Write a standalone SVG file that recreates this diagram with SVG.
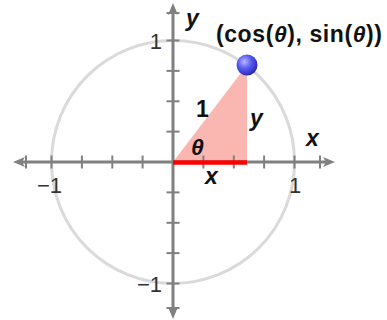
<svg xmlns="http://www.w3.org/2000/svg" width="387" height="320" viewBox="0 0 387 320">
  <style>
    .axis { stroke: #808080; stroke-width: 3; fill: none; }
    .tick { stroke: #808080; stroke-width: 2; }
    .ticklbl { font-family: "Liberation Sans", Arial, sans-serif; font-size: 22px; fill: #333333; }
    .lbl { font-family: "Liberation Sans", Arial, sans-serif; font-size: 23px; font-weight: bold; fill: #111111; }
    .it { font-style: italic; }
  </style>
  <defs>
    <marker id="arr" viewBox="0 0 12 10" refX="7" refY="5" markerWidth="12" markerHeight="10" orient="auto-start-reverse" markerUnits="userSpaceOnUse">
      <path d="M0,0 L12,5 L0,10 L3,5 z" fill="#808080"/>
    </marker>
    <radialGradient id="ballg" cx="0.38" cy="0.35" r="0.7">
      <stop offset="0" stop-color="#b8b8ff"/>
      <stop offset="0.45" stop-color="#5c5cf2"/>
      <stop offset="1" stop-color="#2424b4"/>
    </radialGradient>
  </defs>

  <g id="unit-circle">
    <circle cx="173" cy="162" r="121.5" fill="none" stroke="#dadada" stroke-width="3"/>
  </g>

  <g id="triangle">
    <polygon points="173,162 247,65 247,162" fill="#fab6b1"/>
  </g>

  <g id="axes">
    <line class="axis" x1="18" y1="162" x2="330" y2="162" marker-start="url(#arr)" marker-end="url(#arr)"/>
    <line class="axis" x1="173" y1="314" x2="173" y2="8" marker-start="url(#arr)" marker-end="url(#arr)"/>
  </g>

  <g id="ticks">
    <line class="tick" x1="26" y1="155.5" x2="26" y2="168.5"/>
    <line class="tick" x1="51.5" y1="155.5" x2="51.5" y2="168.5"/>
    <line class="tick" x1="81.9" y1="155.5" x2="81.9" y2="168.5"/>
    <line class="tick" x1="112.3" y1="155.5" x2="112.3" y2="168.5"/>
    <line class="tick" x1="142.6" y1="155.5" x2="142.6" y2="168.5"/>
    <line class="tick" x1="203.4" y1="155.5" x2="203.4" y2="168.5"/>
    <line class="tick" x1="233.8" y1="155.5" x2="233.8" y2="168.5"/>
    <line class="tick" x1="264.1" y1="155.5" x2="264.1" y2="168.5"/>
    <line class="tick" x1="294.5" y1="155.5" x2="294.5" y2="168.5"/>
    <line class="tick" x1="320" y1="155.5" x2="320" y2="168.5"/>
    <line class="tick" x1="166.5" y1="13" x2="179.5" y2="13"/>
    <line class="tick" x1="166.5" y1="40.5" x2="179.5" y2="40.5"/>
    <line class="tick" x1="166.5" y1="70.9" x2="179.5" y2="70.9"/>
    <line class="tick" x1="166.5" y1="101.3" x2="179.5" y2="101.3"/>
    <line class="tick" x1="166.5" y1="131.6" x2="179.5" y2="131.6"/>
    <line class="tick" x1="166.5" y1="192.4" x2="179.5" y2="192.4"/>
    <line class="tick" x1="166.5" y1="222.8" x2="179.5" y2="222.8"/>
    <line class="tick" x1="166.5" y1="253.1" x2="179.5" y2="253.1"/>
    <line class="tick" x1="166.5" y1="283.5" x2="179.5" y2="283.5"/>
    <line class="tick" x1="166.5" y1="308" x2="179.5" y2="308"/>
  </g>

  <g id="tick-labels">
    <text class="ticklbl" x="162" y="49" text-anchor="end">1</text>
    <text class="ticklbl" x="62" y="193" text-anchor="end">−1</text>
    <text class="ticklbl" x="162" y="292" text-anchor="end">−1</text>
    <text class="ticklbl" x="289" y="193">1</text>
  </g>

  <g id="cosine-segment">
    <line x1="173" y1="162.5" x2="247" y2="162.5" stroke="#ff0000" stroke-width="4.5"/>
  </g>

  <g id="point">
    <circle cx="247" cy="65" r="10.5" fill="url(#ballg)"/>
  </g>

  <g id="labels">
    <text class="lbl it" x="186" y="26" font-size="24">y</text>
    <text class="lbl it" x="306" y="146">x</text>
    <text class="lbl" x="196" y="117">1</text>
    <text class="lbl it" x="250" y="126">y</text>
    <text class="lbl it" x="191" y="155" font-size="24">θ</text>
    <text class="lbl it" x="205" y="184">x</text>
    <text class="lbl" x="216" y="42" font-size="25" textLength="166" lengthAdjust="spacing">(cos(<tspan class="it">θ</tspan>), sin(<tspan class="it">θ</tspan>))</text>
  </g>
</svg>
